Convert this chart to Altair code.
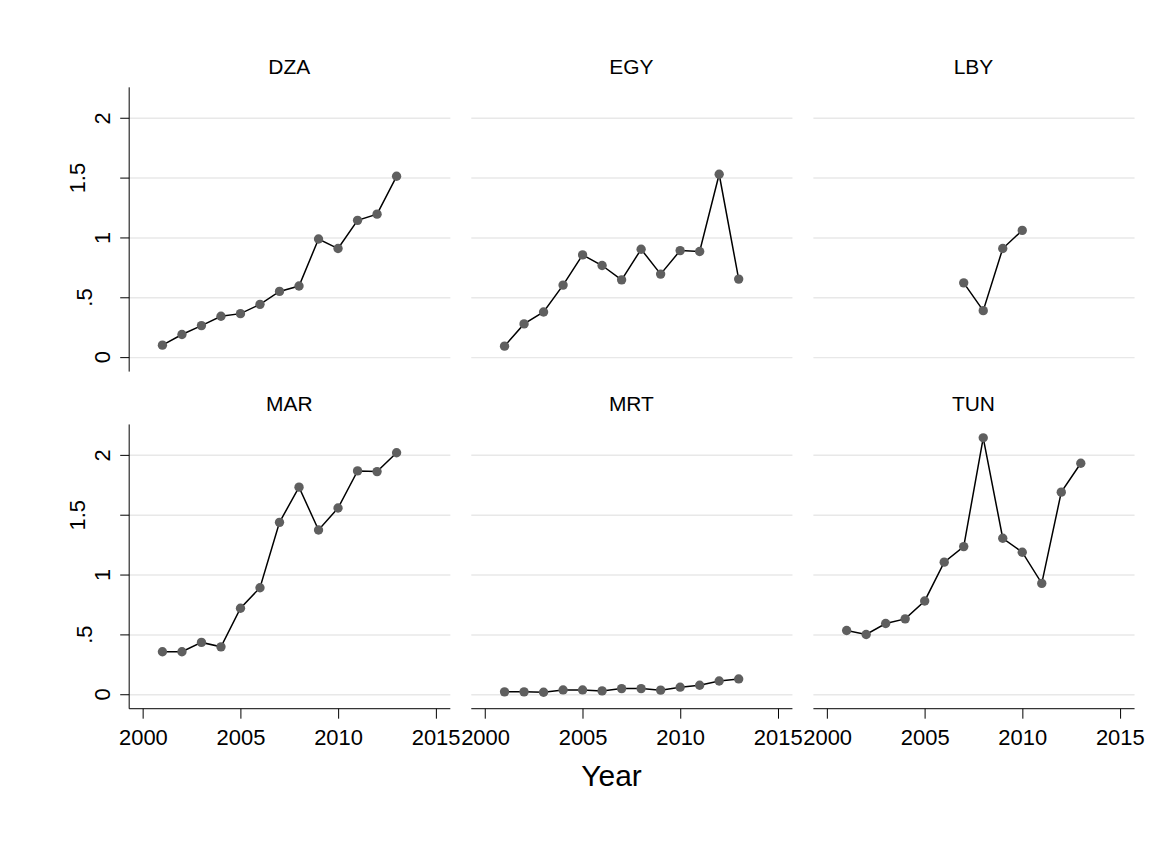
import altair as alt
import pandas as pd

# ---- data ----
countries = ["DZA", "EGY", "LBY", "MAR", "MRT", "TUN"]
years_full = [2001, 2002, 2003, 2004, 2005, 2006, 2007, 2008, 2009, 2010, 2011, 2012, 2013]
dza = [0.097, 0.186, 0.261, 0.339, 0.361, 0.439, 0.547, 0.592, 0.986, 0.906, 1.142, 1.194, 1.511]
egy = [0.089, 0.275, 0.375, 0.600, 0.853, 0.764, 0.644, 0.900, 0.692, 0.889, 0.881, 1.528, 0.650]
lby_years = [2007, 2008, 2009, 2010]
lby = [0.619, 0.386, 0.906, 1.058]
mar = [0.353, 0.353, 0.431, 0.394, 0.717, 0.889, 1.436, 1.731, 1.372, 1.556, 1.867, 1.861, 2.019]
mrt = [0.017, 0.017, 0.014, 0.033, 0.033, 0.025, 0.044, 0.044, 0.031, 0.056, 0.072, 0.108, 0.125]
tun = [0.531, 0.497, 0.589, 0.628, 0.778, 1.103, 1.233, 2.144, 1.303, 1.186, 0.925, 1.689, 1.931]

x_ticks = [2000, 2005, 2010, 2015]
y_ticks = [0, 0.5, 1, 1.5, 2]
y_tick_labels = ["0", ".5", "1", "1.5", "2"]

series = {
    "DZA": (years_full, dza),
    "EGY": (years_full, egy),
    "LBY": (lby_years, lby),
    "MAR": (years_full, mar),
    "MRT": (years_full, mrt),
    "TUN": (years_full, tun),
}

FONT = "Liberation Sans"
W, H = 322, 285
x_dom = [1999.27, 2015.73]
y_dom = [-0.12, 2.26]

label_expr = " : ".join(
    f"datum.value == {v} ? '{l}'" for v, l in zip(y_ticks[:-1], y_tick_labels[:-1])
) + f" : '{y_tick_labels[-1]}'"


def panel(code, row, col):
    yrs, vals = series[code]
    df = pd.DataFrame({"Year": yrs, "value": vals})

    if row == 1:
        x_axis = alt.Axis(values=x_ticks, format="d", grid=False, title=None,
                          domain=True, domainColor="black", domainWidth=1,
                          ticks=True, tickSize=10, tickColor="black", tickWidth=1,
                          labels=True, labelFontSize=22, labelFont=FONT, labelColor="black",
                          labelPadding=9, labelFlush=False, labelOverlap=False, labelBound=False)
    else:
        x_axis = None

    if col == 0:
        y_axis = alt.Axis(values=y_ticks, grid=True, gridColor="#e8e8e8", gridWidth=1.5,
                          title=None, domain=True, domainColor="black", domainWidth=1,
                          ticks=True, tickSize=9, tickColor="black", tickWidth=1,
                          labels=True, labelFontSize=22, labelFont=FONT, labelColor="black",
                          labelAngle=270, labelAlign="center", labelBaseline="alphabetic",
                          labelPadding={"condition": [
                              {"test": "datum.value == 1.5", "value": 35},
                              {"test": "datum.value == 0.5", "value": 28}],
                              "value": 10},
                          labelExpr=label_expr)
    else:
        y_axis = alt.Axis(values=y_ticks, grid=True, gridColor="#e8e8e8", gridWidth=1.5,
                          title=None, domain=False, ticks=False, labels=False)

    x = alt.X("Year:Q", scale=alt.Scale(domain=x_dom, nice=False, zero=False), axis=x_axis)
    y = alt.Y("value:Q", scale=alt.Scale(domain=y_dom, nice=False, zero=False), axis=y_axis)

    base = alt.Chart(df)
    line = base.mark_line(color="black", strokeWidth=1.5).encode(x=x, y=y)
    pts = base.mark_circle(color="#5f5f5f", opacity=1, size=88).encode(x=x, y=y)
    return alt.layer(line, pts).properties(
        width=W, height=H,
        title=alt.TitleParams(code, fontSize=21, font=FONT, fontWeight="normal",
                              color="black", anchor="middle", offset=9),
    )


panels = [panel(countries[i], i // 3, i % 3) for i in range(6)]

chart = alt.concat(*panels, columns=3, spacing={"row": 53, "column": 21},
                   bounds="flush").properties(
    title=alt.TitleParams("Year", orient="bottom", anchor="middle", fontSize=30,
                          font=FONT, fontWeight="normal", color="black", offset=14, dx=6),
    padding={"left": 59, "top": 48, "right": 10, "bottom": 10},
    background="white",
).configure_view(stroke=None)

chart.save("out.html", embed_options={"renderer": "svg", "actions": False})
